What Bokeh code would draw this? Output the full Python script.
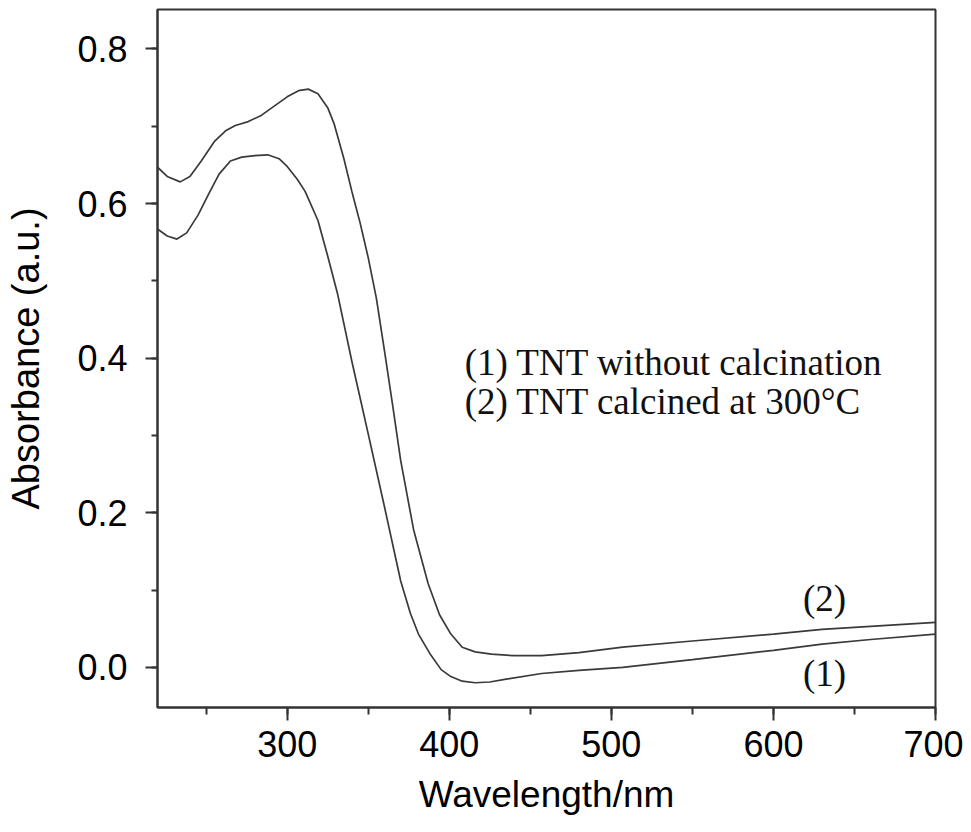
from bokeh.plotting import figure
from bokeh.models import Range1d, SingleIntervalTicker, PrintfTickFormatter, ColumnDataSource
from bokeh.core.properties import value
from bokeh.embed import file_html
from bokeh.resources import INLINE

# Curve (1): TNT without calcination
wl1 = [220, 226, 232, 238, 245, 252, 258, 265, 272, 280, 288, 295, 300, 306, 311, 319, 325, 331,
       340, 350, 360, 370, 376, 381, 388, 395, 401, 408, 416, 425, 436, 457, 480, 507, 550, 600,
       630, 660, 700]
abs1 = [0.567, 0.558, 0.554, 0.562, 0.585, 0.614, 0.638, 0.655, 0.660, 0.662, 0.663, 0.658, 0.648,
        0.632, 0.616, 0.578, 0.532, 0.484, 0.395, 0.302, 0.208, 0.112, 0.070, 0.043, 0.018, -0.003,
        -0.012, -0.018, -0.020, -0.019, -0.015, -0.008, -0.004, 0.000, 0.010, 0.022, 0.030, 0.036,
        0.043]

# Curve (2): TNT calcined at 300 C
wl2 = [220, 226, 234, 240, 247, 255, 262, 268, 276, 284, 292, 300, 307, 313, 319, 325, 329, 335,
       340, 345, 350, 355, 360, 365, 370, 378, 387, 394, 401, 408, 416, 426, 440, 457, 480, 507,
       550, 600, 630, 660, 700]
abs2 = [0.647, 0.635, 0.628, 0.635, 0.655, 0.680, 0.694, 0.701, 0.706, 0.714, 0.726, 0.738, 0.746,
        0.748, 0.742, 0.724, 0.703, 0.658, 0.615, 0.575, 0.530, 0.478, 0.410, 0.340, 0.268, 0.178,
        0.108, 0.068, 0.043, 0.026, 0.020, 0.017, 0.015, 0.015, 0.019, 0.026, 0.034, 0.043, 0.049,
        0.053, 0.058]

legend_lines = ["(1) TNT without calcination", "(2) TNT calcined at 300\u00b0C"]
legend_x = [409.5, 409.5]
legend_y = [0.394, 0.344]

curve_tags = ["(2)", "(1)"]
tag_x = [631.5, 631.5]
tag_y = [0.089, -0.008]

LINE = "#3a3a3a"
AX = "#333333"

p = figure(width=963, height=824, output_backend="svg", toolbar_location=None,
           x_range=Range1d(220, 700), y_range=Range1d(-0.052, 0.851),
           min_border_left=157, min_border_right=28, min_border_top=9, min_border_bottom=117)

p.line(wl1, abs1, line_color=LINE, line_width=1.7)
p.line(wl2, abs2, line_color=LINE, line_width=1.7)

src_leg = ColumnDataSource(dict(x=legend_x, y=legend_y, t=legend_lines))
p.text(x="x", y="y", text="t", source=src_leg, text_font=value("Liberation Serif"),
       text_font_size="37px", text_color="#111111", text_align="left", text_baseline="middle")

src_tag = ColumnDataSource(dict(x=tag_x, y=tag_y, t=curve_tags))
p.text(x="x", y="y", text="t", source=src_tag, text_font=value("Liberation Serif"),
       text_font_size="37px", text_color="#111111", text_align="center", text_baseline="middle")

p.xgrid.visible = False
p.ygrid.visible = False
p.background_fill_color = "white"
p.border_fill_color = "white"
p.outline_line_color = AX
p.outline_line_width = 2

p.xaxis.ticker = SingleIntervalTicker(interval=100, num_minor_ticks=2)
p.yaxis.ticker = SingleIntervalTicker(interval=0.2, num_minor_ticks=2)
p.yaxis.formatter = PrintfTickFormatter(format="%.1f")

for ax in (p.xaxis[0], p.yaxis[0]):
    ax.axis_line_color = AX
    ax.axis_line_width = 2
    ax.major_tick_line_color = AX
    ax.major_tick_line_width = 2
    ax.minor_tick_line_color = AX
    ax.minor_tick_line_width = 2
    ax.major_tick_in = 0
    ax.minor_tick_in = 0
    ax.major_label_text_font = "Liberation Sans"
    ax.major_label_text_font_size = "36px"
    ax.major_label_text_color = "#000000"
    ax.axis_label_text_font = "Liberation Sans"
    ax.axis_label_text_font_style = "normal"
    ax.axis_label_text_color = "#000000"

p.xaxis.major_tick_out = 13
p.xaxis.minor_tick_out = 7
p.yaxis.major_tick_out = 12
p.yaxis.minor_tick_out = 6
p.xaxis.major_label_standoff = 10
p.yaxis.major_label_standoff = 18
p.xaxis.axis_label = "Wavelength/nm"
p.xaxis.axis_label_text_font_size = "37px"
p.xaxis.axis_label_standoff = 14
p.yaxis.axis_label = "Absorbance (a.u.)"
p.yaxis.axis_label_text_font_size = "38px"
p.yaxis.axis_label_standoff = 27

open("out.html", "w").write(file_html(p, INLINE))
